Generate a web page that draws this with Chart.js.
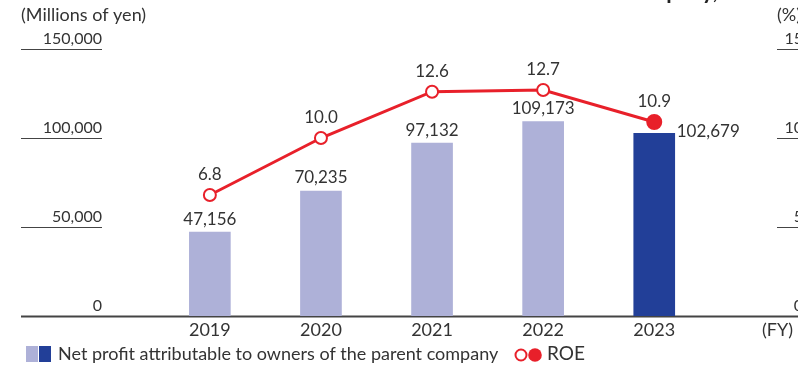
<!DOCTYPE html>
<html>
<head>
<meta charset="utf-8">
<script src="https://cdn.jsdelivr.net/npm/chart.js@4/dist/chart.umd.min.js"></script>
<style>
  html, body { margin: 0; padding: 0; background: #fff; overflow: hidden; }
  #wrap { position: relative; width: 798px; height: 367px; overflow: hidden; }
  canvas { display: block; }
</style>
</head>
<body>
<div id="wrap"><canvas id="chart" width="798" height="367"></canvas></div>
<script>
// Fiscal years and series
const years = [2019, 2020, 2021, 2022, 2023];
const netProfit = [47156, 70235, 97132, 109173, 102679];   // millions of yen
const roe = [6.8, 10.0, 12.6, 12.7, 10.9];                  // %
const profitTicks = [0, 50000, 100000, 150000];
const roeTicks = [0, 5, 10, 15];

const FONT = 'Lato, "Open Sans", sans-serif';
const TEXT = '#333333';
const LIGHT = '#aeb1d8';
const DARK = '#223f98';
const RED = '#e8202a';
const latest = years.length - 1;

const fmt = v => v.toLocaleString('en-US');

const decorations = {
  id: 'decorations',
  beforeDatasetsDraw(chart) {
    const { ctx, chartArea: a, scales: { y, y2 } } = chart;
    ctx.save();
    ctx.strokeStyle = '#444';
    // short underlines under each left tick, full-width baseline at zero
    profitTicks.forEach(v => {
      const py = Math.round(y.getPixelForValue(v)) + 0.5;
      ctx.beginPath();
      ctx.moveTo(21, py);
      ctx.lineTo(v === 0 ? 820 : 102, py);
      ctx.lineWidth = v === 0 ? 2 : 1;
      ctx.stroke();
    });
    // short underlines under each right tick
    ctx.lineWidth = 1;
    roeTicks.forEach(v => {
      if (v === 0) return;
      const py = Math.round(y2.getPixelForValue(v)) + 0.5;
      ctx.beginPath();
      ctx.moveTo(777, py);
      ctx.lineTo(820, py);
      ctx.stroke();
    });
    ctx.restore();
  },
  afterDraw(chart) {
    const { ctx, chartArea: a, scales: { x, y, y2 } } = chart;
    ctx.save();

    // heading running off the top edge
    ctx.font = 'bold 22px ' + FONT;
    ctx.textAlign = 'right';
    ctx.textBaseline = 'alphabetic';
    ctx.fillStyle = '#222';
    ctx.fillText('Net Profit Attributable to Owners of the Parent Company,', 718, -1);

    ctx.fillStyle = TEXT;
    ctx.textBaseline = 'middle';

    // unit captions
    ctx.font = '18px ' + FONT;
    ctx.textAlign = 'left';
    ctx.fillText('(Millions of yen)', 21, 15);
    ctx.fillText('(%)', 777, 15);

    // left tick labels
    ctx.textAlign = 'right';
    ctx.font = '16px ' + FONT;
    profitTicks.forEach(v => {
      ctx.fillText(fmt(v), 102, y.getPixelForValue(v) - 10);
    });
    // right tick labels
    roeTicks.forEach(v => {
      ctx.fillText(String(v), 803, y2.getPixelForValue(v) - 10);
    });

    // category labels
    ctx.textAlign = 'center';
    ctx.font = '18px ' + FONT;
    years.forEach(yr => {
      ctx.fillText(String(yr), x.getPixelForValue(yr), a.bottom + 14);
    });
    ctx.textAlign = 'left';
    ctx.fillText('(FY)', 762, a.bottom + 14);

    // bar values
    ctx.font = '17px ' + FONT;
    const barMeta = chart.getDatasetMeta(0);
    barMeta.data.forEach((bar, i) => {
      if (i === latest) {
        ctx.textAlign = 'left';
        ctx.fillText(fmt(netProfit[i]), bar.x + bar.width / 2 + 2, bar.y - 2);
      } else {
        ctx.textAlign = 'center';
        ctx.fillText(fmt(netProfit[i]), bar.x, bar.y - 13);
      }
    });
    // ROE values
    const lineMeta = chart.getDatasetMeta(1);
    ctx.textAlign = 'center';
    lineMeta.data.forEach((pt, i) => {
      ctx.fillText(roe[i].toFixed(1), pt.x, pt.y - 20);
    });

    // legend
    const ly = 354;
    ctx.fillStyle = LIGHT;
    ctx.fillRect(26, 346, 12, 16);
    ctx.fillStyle = DARK;
    ctx.fillRect(39, 346, 12, 16);
    ctx.fillStyle = TEXT;
    ctx.textAlign = 'left';
    ctx.font = '18px ' + FONT;
    ctx.fillText('Net profit attributable to owners of the parent company', 58, ly);
    ctx.lineWidth = 2;
    ctx.strokeStyle = RED;
    ctx.fillStyle = '#fff';
    ctx.beginPath(); ctx.arc(521, 355, 5.5, 0, Math.PI * 2); ctx.fill(); ctx.stroke();
    ctx.fillStyle = RED;
    ctx.beginPath(); ctx.arc(535, 355, 6.8, 0, Math.PI * 2); ctx.fill();
    ctx.fillStyle = TEXT;
    ctx.font = '19px ' + FONT;
    ctx.fillText('ROE', 547, ly);
    ctx.restore();
  }
};

new Chart(document.getElementById('chart'), {
  data: {
    datasets: [
      {
        type: 'bar',
        label: 'Net profit attributable to owners of the parent company',
        data: years.map((yr, i) => ({ x: yr, y: netProfit[i] })),
        backgroundColor: years.map((_, i) => i === latest ? DARK : LIGHT),
        borderWidth: 0,
        barThickness: 41,
        yAxisID: 'y',
        order: 2
      },
      {
        type: 'line',
        label: 'ROE',
        data: years.map((yr, i) => ({ x: yr, y: roe[i] })),
        borderColor: RED,
        borderWidth: 3,
        pointRadius: years.map((_, i) => i === latest ? 7 : 6),
        pointBorderWidth: 2,
        pointBorderColor: RED,
        pointBackgroundColor: years.map((_, i) => i === latest ? RED : '#fff'),
        tension: 0,
        yAxisID: 'y2',
        order: 1,
        clip: false
      }
    ]
  },
  options: {
    responsive: false,
    animation: false,
    events: [],
    layout: { padding: { left: 22, right: 0, top: 49, bottom: 51 } },
    plugins: { legend: { display: false }, tooltip: { enabled: false } },
    scales: {
      x: { type: 'linear', min: 2017.309, max: 2024.213, offset: false, grid: { offset: false }, display: false },
      y: { type: 'linear', min: 0, max: 150000, display: false },
      y2: { type: 'linear', min: 0, max: 15, display: false }
    }
  },
  plugins: [decorations]
});
</script>
</body>
</html>
